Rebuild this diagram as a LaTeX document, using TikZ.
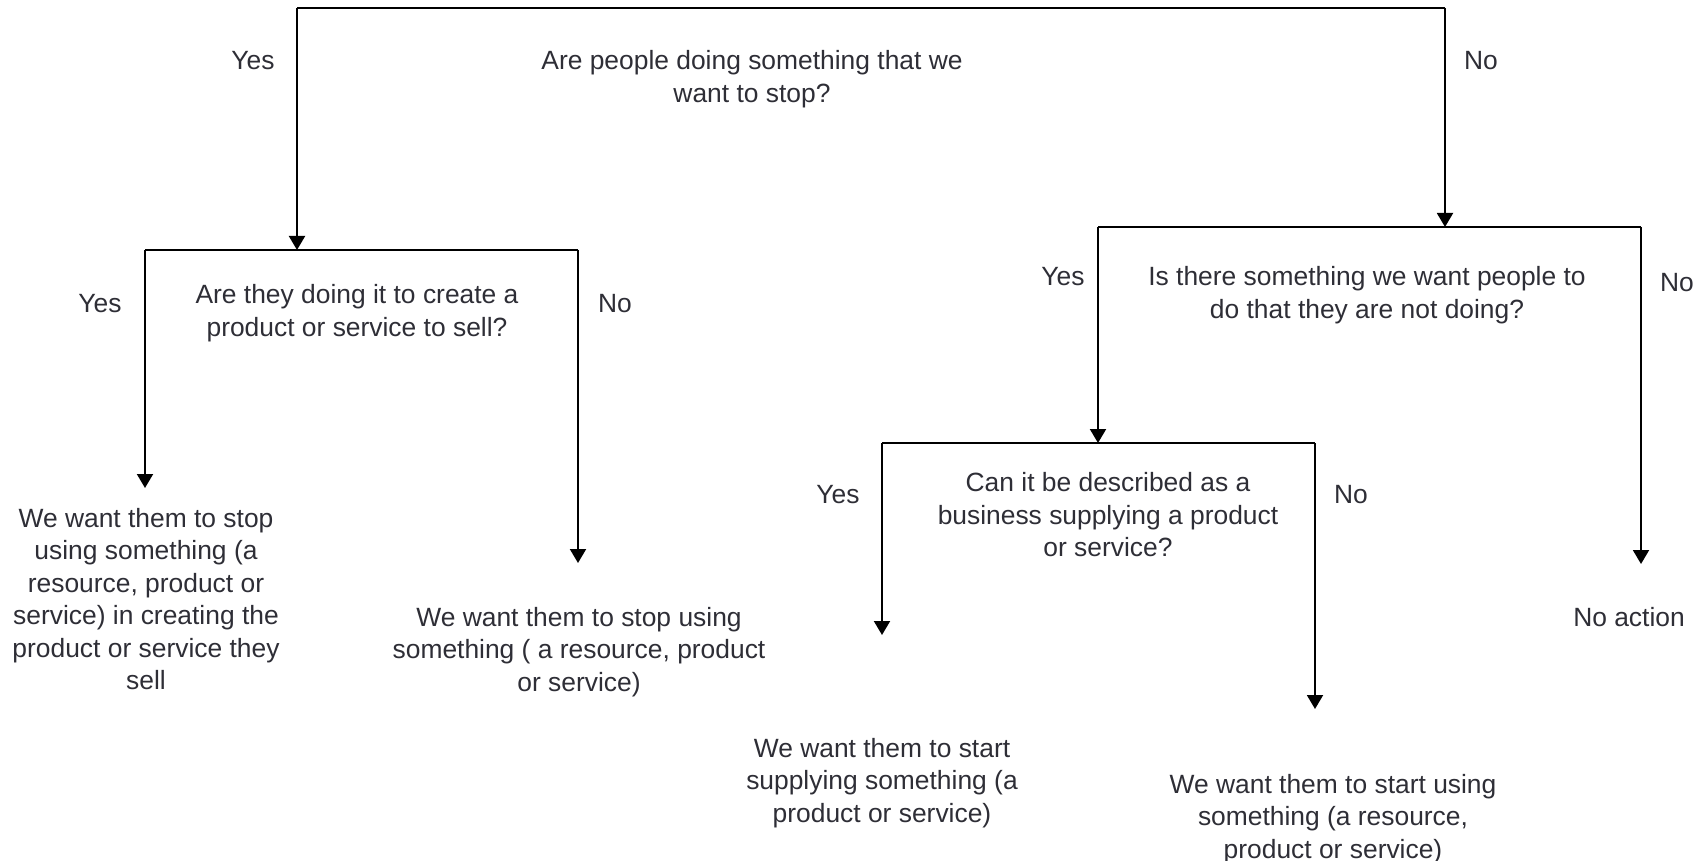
\documentclass[tikz,border=0pt]{standalone}
\usepackage{fontspec}
\setmainfont{Liberation Sans}
\usetikzlibrary{arrows.meta}
\definecolor{txt}{HTML}{2E2E36}
\tikzset{
  lbl/.style={font=\fontsize{26.4}{32.5}\selectfont, text=txt, align=center, inner sep=0pt},
  ln/.style={draw=black, line width=2pt},
  arr/.style={ln, -{Triangle[width=16pt,length=14pt]}}
}
\begin{document}
\begin{tikzpicture}[x=1pt,y=-1pt]
\useasboundingbox (0,0) rectangle (1703,861);
% bracket corners
\coordinate (t1l) at (297,8);
\coordinate (t1r) at (1445,8);
\coordinate (t2l) at (145,250);
\coordinate (t2m) at (297,250);
\coordinate (t2r) at (578,250);
\coordinate (t3l) at (1098,227);
\coordinate (t3m) at (1445,227);
\coordinate (t3r) at (1641,227);
\coordinate (t4l) at (882,443);
\coordinate (t4m) at (1098,443);
\coordinate (t4r) at (1315,443);
% arrow ends
\coordinate (e2l) at (145,488);
\coordinate (e2r) at (578,563);
\coordinate (e3r) at (1641,564);
\coordinate (e4l) at (882,635);
\coordinate (e4r) at (1315,709);
% questions
\node[lbl] (q1) at (752,79) {Are people doing something that we\\want to stop?};
\node[lbl] (q2) at (357,313) {Are they doing it to create a\\product or service to sell?};
\node[lbl] (q3) at (1367,295) {Is there something we want people to\\do that they are not doing?};
\node[lbl] (q4) at (1108,515) {Can it be described as a\\business supplying a product\\or service?};
% yes / no
\node[lbl] (y1) at (253,61) {Yes};
\node[lbl] (n1) at (1481,61) {No};
\node[lbl] (y2) at (100,304) {Yes};
\node[lbl] (n2) at (615,304) {No};
\node[lbl] (y3) at (1063,277) {Yes};
\node[lbl] (n3) at (1677,283) {No};
\node[lbl] (y4) at (838,495) {Yes};
\node[lbl] (n4) at (1351,495) {No};
% leaves
\node[lbl] (l1) at (146,599) {We want them to stop\\using something (a\\resource, product or\\service) in creating the\\product or service they\\sell};
\node[lbl] (l2) at (579,652) {We want them to stop using\\something ( a resource, product\\or service)};
\node[lbl] (l3) at (882,783) {We want them to start\\supplying something (a\\product or service)};
\node[lbl] (l4) at (1333,819) {We want them to start using\\something (a resource,\\product or service)};
\node[lbl] (l5) at (1629,617) {No action};
% lines
\draw[ln] (t1l) -- (t1r);
\draw[ln] (t2l) -- (t2r);
\draw[ln] (t3l) -- (t3r);
\draw[ln] (t4l) -- (t4r);
\draw[arr] (t1l) -- (t2m);
\draw[arr] (t1r) -- (t3m);
\draw[arr] (t2l) -- (e2l);
\draw[arr] (t2r) -- (e2r);
\draw[arr] (t3l) -- (t4m);
\draw[arr] (t3r) -- (e3r);
\draw[arr] (t4l) -- (e4l);
\draw[arr] (t4r) -- (e4r);
\end{tikzpicture}
\end{document}
